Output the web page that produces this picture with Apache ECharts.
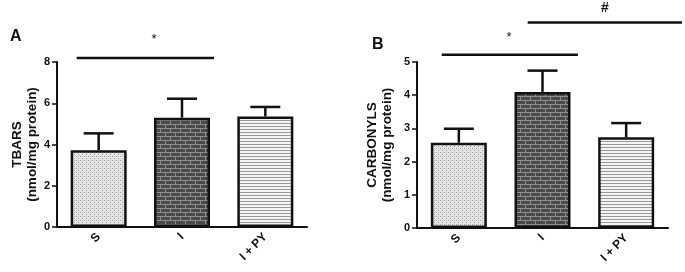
<!DOCTYPE html>
<html>
<head>
<meta charset="utf-8">
<script src="https://cdn.jsdelivr.net/npm/echarts@6/dist/echarts.min.js"></script>
<style>
  html, body { margin: 0; padding: 0; background: #ffffff; }
  #chart { width: 685px; height: 272px; }
</style>
</head>
<body>
<div id="chart"></div>
<script>
// groups (same in both panels)
const GROUPS = ["S", "I", "I + PY"];

// panel A: TBARS, mean and SEM
const TBARS_MEAN = [3.72, 5.3, 5.36];
const TBARS_SEM = [0.82, 0.92, 0.46];
const TBARS_TICKS = [0, 2, 4, 6, 8];

// panel B: carbonyls, mean and SEM
const CARB_MEAN = [2.57, 4.1, 2.73];
const CARB_SEM = [0.42, 0.64, 0.43];
const CARB_TICKS = [0, 1, 2, 3, 4, 5];

// significance bars: [from, to, height, mark, mark height, mark x] (x in category units, 0..3)
const SIG_A = [[0.236, 1.885, 8.19, "*", 9.1, 1.164]];
const SIG_B = [
  [0.295, 1.924, 5.22, "*", 5.74, 1.10],
  [1.323, 3.167, 6.19, "#", 6.62, 2.247],
];

const INK = "#111111";
const FONT = "Liberation Sans";

// hatch fills, drawn once on small canvases
function tile(w, h, draw) {
  const c = document.createElement("canvas");
  c.width = w;
  c.height = h;
  draw(c.getContext("2d"));
  return { image: c, repeat: "repeat" };
}
const FILL_S = tile(4, 4, (g) => {
  g.fillStyle = "#e4e4e4";
  g.fillRect(0, 0, 4, 4);
  g.fillStyle = "#a0a0a0";
  g.fillRect(0, 0, 1, 1);
  g.fillRect(2, 2, 1, 1);
  g.fillStyle = "#c4c4c4";
  g.fillRect(2, 0, 1, 1);
});
const FILL_I = tile(10, 8, (g) => {
  g.fillStyle = "#4a4a4a";
  g.fillRect(0, 0, 10, 8);
  g.fillStyle = "#8e8e8e";
  g.fillRect(0, 0, 10, 1);
  g.fillRect(0, 4, 10, 1);
  g.fillRect(0, 0, 1, 4);
  g.fillRect(5, 4, 1, 4);
});
const FILL_PY = tile(4, 3, (g) => {
  g.fillStyle = "#f4f4f4";
  g.fillRect(0, 0, 4, 3);
  g.fillStyle = "#9a9a9a";
  g.fillRect(0, 0, 4, 1);
});
const FILLS = [FILL_S, FILL_I, FILL_PY];

function errorBars(grid, mean, sem) {
  return {
    type: "custom",
    xAxisIndex: grid,
    yAxisIndex: grid,
    z: 1,
    data: mean.map((m, i) => [i, m, sem[i]]),
    renderItem: (params, api) => {
      const top = api.coord([api.value(0), api.value(1) + api.value(2)]);
      const base = api.coord([api.value(0), api.value(1)]);
      const half = 15;
      const style = { stroke: INK, lineWidth: 2.5 };
      return {
        type: "group",
        children: [
          { type: "line", shape: { x1: base[0], y1: base[1], x2: top[0], y2: top[1] }, style },
          { type: "line", shape: { x1: top[0] - half, y1: top[1], x2: top[0] + half, y2: top[1] }, style },
        ],
      };
    },
  };
}

function sigBars(grid, rows) {
  return {
    type: "custom",
    xAxisIndex: grid + 2,
    yAxisIndex: grid,
    clip: false,
    silent: true,
    data: rows.map((r) => [r[0], r[1], r[2], r[4], r[5]]),
    renderItem: (params, api) => {
      const a = api.coord([api.value(0), api.value(2)]);
      const b = api.coord([api.value(1), api.value(2)]);
      const t = api.coord([api.value(4), api.value(3)]);
      const mark = rows[params.dataIndex][3];
      return {
        type: "group",
        children: [
          { type: "line", shape: { x1: a[0], y1: a[1], x2: b[0], y2: b[1] },
            style: { stroke: INK, lineWidth: 2.5 } },
          { type: "text", x: t[0], y: t[1],
            style: { text: mark, fill: INK, align: "center", verticalAlign: "middle",
              font: (mark === "#" ? "bold 14px " : "13px ") + FONT } },
        ],
      };
    },
  };
}

function catAxis(grid) {
  return {
    type: "category",
    gridIndex: grid,
    data: GROUPS,
    axisLine: { lineStyle: { color: INK, width: 2 } },
    axisTick: { alignWithLabel: true, length: 4, lineStyle: { color: INK, width: 1.5 } },
    axisLabel: { rotate: 45, color: INK, fontFamily: FONT, fontWeight: "bold", fontSize: 12, margin: 8 },
  };
}

function hiddenX(grid) {
  return { type: "value", gridIndex: grid, min: 0, max: 3, show: false };
}

function valAxis(grid, ticks, name, gap) {
  return {
    type: "value",
    gridIndex: grid,
    min: ticks[0],
    max: ticks[ticks.length - 1],
    interval: ticks[1] - ticks[0],
    name: name,
    nameLocation: "middle",
    nameGap: gap,
    nameRotate: 90,
    nameTextStyle: { color: INK, fontFamily: FONT, fontWeight: "bold", fontSize: 13.5, lineHeight: 15 },
    axisLine: { show: true, lineStyle: { color: INK, width: 2 } },
    axisTick: { show: true, length: 5, lineStyle: { color: INK, width: 1.5 } },
    axisLabel: { color: INK, fontFamily: FONT, fontWeight: "bold", fontSize: 11, margin: 7 },
    splitLine: { show: false },
  };
}

function bars(grid, mean) {
  return {
    type: "bar",
    xAxisIndex: grid,
    yAxisIndex: grid,
    barWidth: 56,
    z: 2,
    data: mean.map((v, i) => ({
      value: v,
      itemStyle: { color: FILLS[i], borderColor: INK, borderWidth: 2.5 },
    })),
  };
}

const chart = echarts.init(document.getElementById("chart"), null, { renderer: "canvas" });
chart.setOption({
  animation: false,
  backgroundColor: "#ffffff",
  title: [
    { text: "A", left: 5, top: 24, textStyle: { fontFamily: FONT, fontWeight: "bold", fontSize: 16, color: INK } },
    { text: "B", left: 367, top: 32, textStyle: { fontFamily: FONT, fontWeight: "bold", fontSize: 16, color: INK } },
  ],
  grid: [
    { left: 57, right: 378, top: 62, bottom: 45 },
    { left: 417, right: 17, top: 62, bottom: 44 },
  ],
  xAxis: [catAxis(0), catAxis(1), hiddenX(0), hiddenX(1)],
  yAxis: [
    valAxis(0, TBARS_TICKS, "TBARS\n(nmol/mg protein)", 15),
    valAxis(1, CARB_TICKS, "CARBONYLS\n(nmol/mg protein)", 22),
  ],
  series: [
    bars(0, TBARS_MEAN),
    errorBars(0, TBARS_MEAN, TBARS_SEM),
    sigBars(0, SIG_A),
    bars(1, CARB_MEAN),
    errorBars(1, CARB_MEAN, CARB_SEM),
    sigBars(1, SIG_B),
  ],
});
</script>
</body>
</html>
